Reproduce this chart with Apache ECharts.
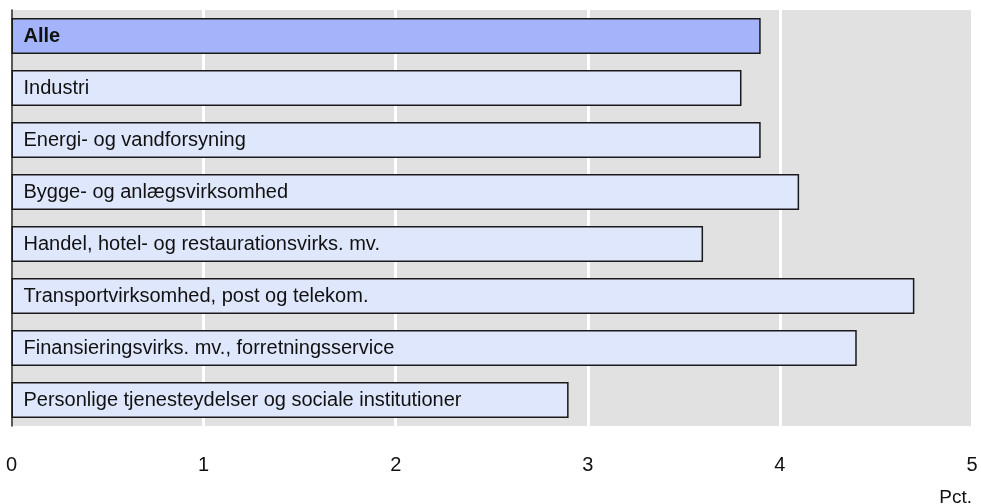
<!DOCTYPE html>
<html>
<head>
<meta charset="utf-8">
<script src="https://cdn.jsdelivr.net/npm/echarts@6/dist/echarts.min.js"></script>
<style>html,body{margin:0;padding:0;background:#fff;}#c{width:981px;height:504px;}</style>
</head>
<body>
<div id="c"></div>
<script>
const categories = [
  "Alle",
  "Industri",
  "Energi- og vandforsyning",
  "Bygge- og anlægsvirksomhed",
  "Handel, hotel- og restaurationsvirks. mv.",
  "Transportvirksomhed, post og telekom.",
  "Finansieringsvirks. mv., forretningsservice",
  "Personlige tjenesteydelser og sociale institutioner"
];
const values = [3.9, 3.8, 3.9, 4.1, 3.6, 4.7, 4.4, 2.9];
const xTicks = [0, 1, 2, 3, 4, 5];
const unitLabel = "Pct.";

const chart = echarts.init(document.getElementById('c'), null, {renderer: 'canvas'});
const FONT = "'Liberation Sans', Arial, sans-serif";

const data = values.map((v, i) => ({
  value: v,
  itemStyle: { color: i === 0 ? '#a3b4fb' : '#dfe7fc' },
  label: i === 0 ? { fontWeight: 'bold' } : {}
}));

chart.setOption({
  animation: false,
  grid: {
    left: 11.5, right: 9, top: 10, bottom: 78,
    show: true, backgroundColor: '#e1e1e1', borderWidth: 0
  },
  xAxis: {
    type: 'value', min: xTicks[0], max: xTicks[xTicks.length - 1], interval: 1,
    axisLine: { show: false }, axisTick: { show: false },
    splitLine: { show: true, lineStyle: { color: '#ffffff', width: 3 } },
    axisLabel: { color: '#111', fontSize: 20, fontFamily: FONT, margin: 29 }
  },
  yAxis: {
    type: 'category', data: categories, inverse: true,
    axisLine: { show: true, lineStyle: { color: '#222', width: 1.5 } },
    axisTick: { show: false }, axisLabel: { show: false },
    splitLine: { show: false }
  },
  series: [{
    type: 'bar',
    data: data,
    barWidth: 36,
    itemStyle: { borderColor: '#1a1a1a', borderWidth: 1.5 },
    label: {
      show: true, position: 'insideLeft', distance: 12,
      formatter: p => p.name,
      color: '#111', fontSize: 20, fontFamily: FONT
    }
  }],
  graphic: [{
    type: 'text', right: 9, top: 488,
    style: { text: unitLabel, fill: '#111', font: '19px ' + FONT, textAlign: 'right' }
  }]
});
</script>
</body>
</html>
